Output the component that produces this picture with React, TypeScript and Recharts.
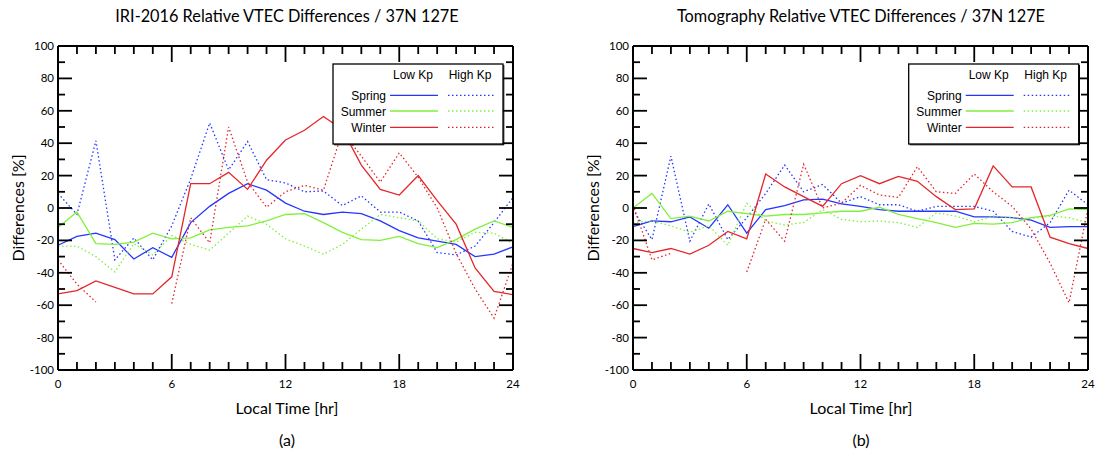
import React from 'react';
import { LineChart, Line, XAxis, YAxis } from 'recharts';

const HOURS = [0, 1, 2, 3, 4, 5, 6, 7, 8, 9, 10, 11, 12, 13, 14, 15, 16, 17, 18, 19, 20, 21, 22, 23, 24];
const Y_TICKS = [-100, -90, -80, -70, -60, -50, -40, -30, -20, -10, 0, 10, 20, 30, 40, 50, 60, 70, 80, 90, 100];

// (a) IRI-2016
const iriSpringLow = [-23, -17.5, -15.5, -19.5, -31.5, -24.5, -30.5, -9, 1, 9, 15, 11, 3, -2, -4, -2.5, -3.5, -8, -14, -18.5, -20.5, -22.5, -30, -28.5, -24];
const iriSpringHigh = [9, -4, 41.5, -32, -18.5, -32, -11, 18, 52.5, 23.5, 41, 17.5, 15.5, 10, 10.5, 1.5, 7.5, -2.5, -2.5, -8, -27.5, -29, -23.5, -9, 6.5];
const iriSummerLow = [-12, -2.5, -22, -22.5, -21, -15.5, -19, -18.5, -13.5, -12, -11, -8, -4, -3.5, -9, -15, -19.5, -20, -17.5, -22, -24.5, -19.5, -13, -8, -12];
const iriSummerHigh = [-23.5, -23.5, -30, -39.5, -22, -29, -17, -22.5, -26, -15.5, -5, -10, -19, -23.5, -28.5, -22.5, -13, -4, -6, -8, -19, -21, -15, -15.5, -22];
const iriWinterLow = [-53, -51, -45, -49, -53, -53, -42.5, 15, 15, 22, 11.5, 29.5, 42, 48, 56.5, 48.5, 26.5, 11.5, 8, 20, 4.5, -10, -37, -51.5, -53.5];
const iriWinterHigh = [-32, -47, -58, null, null, null, -59, -6, -21.5, 50, 16, 0.5, 10, 14, 11, 47, 32, 16, 34, 19, 0, -28, -50, -68, -34];

// (b) Tomography
const tomoSpringLow = [-11.5, -8, -8.5, -5.5, -12.5, 2, -15.5, -1, 1.5, 5, 5.5, 2.5, 1, -1, -2, -2, -2, -2, -5.5, -5.5, -6, -7.5, -12, -11.5, -11.5];
const tomoSpringHigh = [-1, -19.5, 32, -20.5, 2.5, -19.5, -6, 9, 26.5, 10, 14.5, 3, 7, 2, 2, -2, 1, 1, 1, -2, -14.5, -18, -9, 11, 2];
const tomoSummerLow = [0, 9, -6.5, -5, -8, -2, -3.5, -5, -4, -4, -3, -2, -2, 0.5, -4, -6.5, -9, -12, -9.5, -10, -9, -6, -4.5, -0.5, -1];
const tomoSummerHigh = [-9, -8, -11, -15, -11, -23, 3, -8, -10.5, -9, -1, -7, -8.5, -8, -9, -12, -3, -5, -8.5, -5, -6, -6.5, -5, -6, -9];
const tomoWinterLow = [-25, -27.5, -25, -28.5, -23, -14.5, -19, 21, 13, 7, 1, 15, 20, 15, 19.5, 16.5, 7, -1, -0.5, 26, 13, 13, -18, -22, -25];
const tomoWinterHigh = [2, -32, -28, null, null, null, -39.5, -7, -20.5, 27, 0, 3, 14, 8, 6.5, 25.5, 10, 9, 21, 10, 1, -13, -34, -58.5, 0];

const SEASONS = ['Spring', 'Summer', 'Winter'];
const KP_LABELS = ['Low Kp', 'High Kp'];
const TITLES = ['IRI-2016 Relative VTEC Differences / 37N 127E', 'Tomography Relative VTEC Differences / 37N 127E'];
const PANEL_TAGS = ['(a)', '(b)'];
const X_LABEL = 'Local Time [hr]';
const Y_LABEL = 'Differences [%]';

const BLUE = '#2436ff';
const GREEN = '#80f03c';
const RED = '#e4262a';
const COLORS = [BLUE, GREEN, RED];

const build = (sl, sh, ul, uh, wl, wh) =>
  HOURS.map((h, i) => ({ h, sl: sl[i], sh: sh[i], ul: ul[i], uh: uh[i], wl: wl[i], wh: wh[i] }));

const iriData = build(iriSpringLow, iriSpringHigh, iriSummerLow, iriSummerHigh, iriWinterLow, iriWinterHigh);
const tomoData = build(tomoSpringLow, tomoSpringHigh, tomoSummerLow, tomoSummerHigh, tomoWinterLow, tomoWinterHigh);

const FONT = 'Lato, "Liberation Sans", sans-serif';
const LEG_FONT = '"Liberation Sans", Arial, sans-serif';
const TW = 1.8;

const BottomTick = (p: any) => {
  const { x, y, payload } = p;
  const v = payload.value;
  const major = v % 6 === 0;
  return (
    <g>
      <line x1={x} x2={x} y1={y} y2={y - (major ? 16 : 8)} stroke="#000" strokeWidth={TW} />
      {major && (
        <text x={x} y={y + 18} textAnchor="middle" fontSize={11.5} fontFamily={FONT} fill="#000">{v}</text>
      )}
    </g>
  );
};
const TopTick = (p: any) => {
  const { x, y, payload } = p;
  const major = payload.value % 6 === 0;
  return <line x1={x} x2={x} y1={y} y2={y + (major ? 16 : 8)} stroke="#000" strokeWidth={TW} />;
};
const LeftTick = (p: any) => {
  const { x, y, payload } = p;
  const v = payload.value;
  const major = v % 20 === 0;
  return (
    <g>
      <line x1={x} x2={x + (major ? 14 : 7)} y1={y} y2={y} stroke="#000" strokeWidth={TW} />
      {major && (
        <text x={x - 4} y={y + 4} textAnchor="end" fontSize={11.5} fontFamily={FONT} fill="#000">{v}</text>
      )}
    </g>
  );
};
const RightTick = (p: any) => {
  const { x, y, payload } = p;
  const major = payload.value % 20 === 0;
  return <line x1={x} x2={x - (major ? 14 : 7)} y1={y} y2={y} stroke="#000" strokeWidth={TW} />;
};

const AX = { stroke: '#000', strokeWidth: 2 };

function Panel({ data, left }: { data: any[]; left: number }) {
  const keys = [['sl', 'sh'], ['ul', 'uh'], ['wl', 'wh']];
  return (
    <div style={{ position: 'absolute', left, top: 0 }}>
      <LineChart width={555} height={460} data={data} margin={{ top: 45, right: 41, bottom: 89, left: 57 }}>
        <XAxis xAxisId="b" dataKey="h" type="number" domain={[0, 24]} ticks={HOURS} interval={0}
          orientation="bottom" height={1} tickSize={0} tickMargin={0} tickLine={false} axisLine={AX} tick={BottomTick} />
        <XAxis xAxisId="t" dataKey="h" type="number" domain={[0, 24]} ticks={HOURS} interval={0}
          orientation="top" height={1} tickSize={0} tickMargin={0} tickLine={false} axisLine={AX} tick={TopTick} />
        <YAxis yAxisId="l" type="number" domain={[-100, 100]} ticks={Y_TICKS} interval={0}
          orientation="left" width={1} tickSize={0} tickMargin={0} tickLine={false} axisLine={AX} tick={LeftTick} />
        <YAxis yAxisId="r" type="number" domain={[-100, 100]} ticks={Y_TICKS} interval={0}
          orientation="right" width={1} tickSize={0} tickMargin={0} tickLine={false} axisLine={AX} tick={RightTick} />
        <Line xAxisId="t" yAxisId="r" dataKey="sl" stroke="none" dot={false} activeDot={false} isAnimationActive={false} />
        {keys.map(([lo, hi], i) => [
          <Line key={hi} xAxisId="b" yAxisId="l" type="linear" dataKey={hi} stroke={COLORS[i]} strokeWidth={1.3}
            strokeDasharray="1.5 2.5" dot={false} activeDot={false} isAnimationActive={false} />,
          <Line key={lo} xAxisId="b" yAxisId="l" type="linear" dataKey={lo} stroke={COLORS[i]} strokeWidth={1.3}
            dot={false} activeDot={false} isAnimationActive={false} />,
        ])}
      </LineChart>
    </div>
  );
}

function LegendBox({ x, y }: { x: number; y: number }) {
  const rows = [31.3, 47, 63.3];
  return (
    <g transform={`translate(${x},${y})`}>
      <rect x={0} y={0} width={170} height={80} fill="#fff" stroke="#000" strokeWidth={1.3} />
      <line x1={170.8} x2={170.8} y1={1} y2={81} stroke="#000" strokeWidth={1} />
      <line x1={1} x2={171} y1={80.8} y2={80.8} stroke="#000" strokeWidth={1} />
      <text x={80} y={15} textAnchor="middle" fontSize={12} fontFamily={LEG_FONT} fill="#000">{KP_LABELS[0]}</text>
      <text x={137} y={15} textAnchor="middle" fontSize={12} fontFamily={LEG_FONT} fill="#000">{KP_LABELS[1]}</text>
      {SEASONS.map((s, i) => (
        <g key={s}>
          <text x={53} y={rows[i] + 4.5} textAnchor="end" fontSize={12} fontFamily={LEG_FONT} fill="#000">{s}</text>
          <line x1={57} x2={105} y1={rows[i]} y2={rows[i]} stroke={COLORS[i]} strokeWidth={1.3} />
          <line x1={115} x2={162} y1={rows[i]} y2={rows[i]} stroke={COLORS[i]} strokeWidth={1.3} strokeDasharray="1.5 2.5" />
        </g>
      ))}
    </g>
  );
}

export default function App() {
  const centers = [287, 861];
  const ylabX = [17, 592];
  return (
    <div style={{ position: 'absolute', left: 0, top: 0, width: 1110, height: 460, background: '#fff' }}>
      <Panel data={iriData} left={0} />
      <Panel data={tomoData} left={575} />
      <svg width={1110} height={460} style={{ position: 'absolute', left: 0, top: 0, pointerEvents: 'none' }}>
        {centers.map((cx, i) => (
          <g key={i}>
            <text x={cx} y={22} textAnchor="middle" fontSize={16.3} fontFamily={FONT} fill="#000">{TITLES[i]}</text>
            <text x={cx} y={414} textAnchor="middle" fontSize={16} fontFamily={FONT} fill="#000">{X_LABEL}</text>
            <text x={cx} y={446} textAnchor="middle" fontSize={16} fontFamily={FONT} fill="#000">{PANEL_TAGS[i]}</text>
            <text x={ylabX[i]} y={208} textAnchor="middle" dominantBaseline="central" fontSize={16} fontFamily={FONT}
              fill="#000" transform={`rotate(-90 ${ylabX[i]} 208)`}>{Y_LABEL}</text>
          </g>
        ))}
        <LegendBox x={333} y={64} />
        <LegendBox x={908.7} y={64} />
      </svg>
    </div>
  );
}
